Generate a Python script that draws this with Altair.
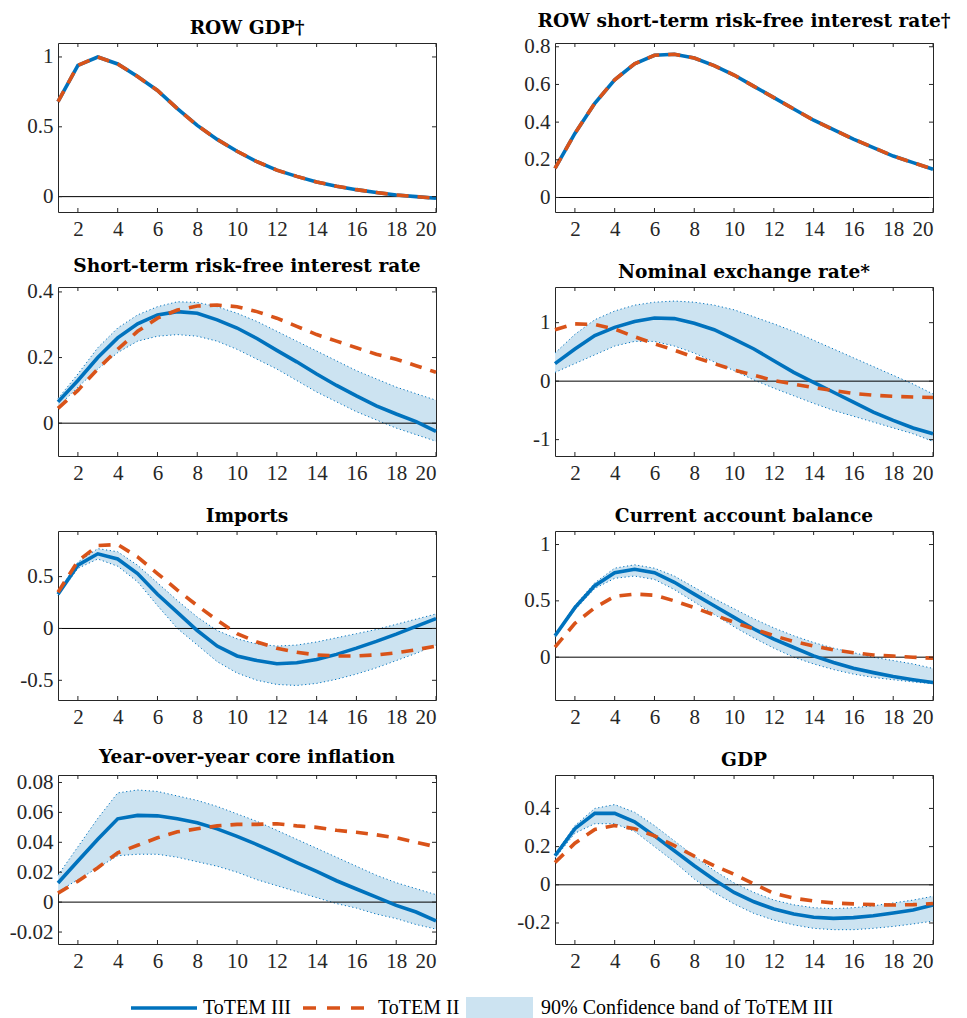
import altair as alt
import pandas as pd

# ---------------- data ----------------
horizon = list(range(1, 21))
x_ticks = [2, 4, 6, 8, 10, 12, 14, 16, 18, 20]

titles = [
    "ROW GDP\u2020",
    "ROW short-term risk-free interest rate\u2020",
    "Short-term risk-free interest rate",
    "Nominal exchange rate*",
    "Imports",
    "Current account balance",
    "Year-over-year core inflation",
    "GDP",
]

legend_labels = ["ToTEM III", "ToTEM II", "90% Confidence band of ToTEM III"]

# ROW GDP
row_gdp_t3 = [0.68, 0.94, 1.0, 0.95, 0.86, 0.76, 0.63, 0.51, 0.41, 0.325, 0.25, 0.19, 0.145, 0.105, 0.075, 0.05, 0.03, 0.012, 0.0, -0.012]
row_gdp_t2 = [0.68, 0.94, 1.0, 0.95, 0.86, 0.76, 0.63, 0.51, 0.41, 0.325, 0.25, 0.19, 0.145, 0.105, 0.075, 0.05, 0.03, 0.012, 0.0, -0.012]

# ROW short-term rate
row_rate_t3 = [0.155, 0.34, 0.50, 0.625, 0.71, 0.755, 0.76, 0.74, 0.70, 0.65, 0.59, 0.53, 0.47, 0.41, 0.36, 0.31, 0.265, 0.22, 0.185, 0.15]
row_rate_t2 = [0.155, 0.34, 0.50, 0.625, 0.71, 0.755, 0.76, 0.74, 0.70, 0.65, 0.59, 0.53, 0.47, 0.41, 0.36, 0.31, 0.265, 0.22, 0.185, 0.15]

# Short-term risk-free interest rate
rate_t3 = [0.065, 0.13, 0.2, 0.26, 0.303, 0.33, 0.34, 0.335, 0.315, 0.29, 0.258, 0.222, 0.187, 0.15, 0.115, 0.083, 0.053, 0.028, 0.005, -0.025]
rate_hi = [0.075, 0.15, 0.23, 0.29, 0.33, 0.355, 0.37, 0.368, 0.355, 0.335, 0.31, 0.28, 0.25, 0.22, 0.19, 0.16, 0.135, 0.11, 0.09, 0.07]
rate_lo = [0.05, 0.11, 0.165, 0.215, 0.25, 0.265, 0.27, 0.265, 0.25, 0.225, 0.195, 0.165, 0.13, 0.095, 0.065, 0.035, 0.01, -0.015, -0.035, -0.055]
rate_t2 = [0.045, 0.10, 0.165, 0.225, 0.28, 0.32, 0.345, 0.357, 0.36, 0.355, 0.34, 0.32, 0.295, 0.27, 0.25, 0.23, 0.21, 0.195, 0.175, 0.155]

# Nominal exchange rate
fx_t3 = [0.30, 0.55, 0.78, 0.92, 1.02, 1.08, 1.07, 0.99, 0.88, 0.72, 0.55, 0.35, 0.15, -0.02, -0.19, -0.36, -0.53, -0.67, -0.8, -0.9]
fx_hi = [0.48, 0.8, 1.05, 1.2, 1.3, 1.35, 1.37, 1.35, 1.3, 1.22, 1.1, 0.98, 0.85, 0.7, 0.55, 0.4, 0.25, 0.1, -0.05, -0.22]
fx_lo = [0.15, 0.3, 0.45, 0.6, 0.68, 0.68, 0.6, 0.48, 0.33, 0.18, 0.02, -0.12, -0.25, -0.38, -0.5, -0.6, -0.7, -0.8, -0.9, -1.03]
fx_t2 = [0.88, 0.98, 0.97, 0.89, 0.76, 0.64, 0.53, 0.41, 0.30, 0.19, 0.1, 0.01, -0.05, -0.11, -0.16, -0.21, -0.24, -0.26, -0.27, -0.28]

# Imports
imp_t3 = [0.33, 0.61, 0.72, 0.67, 0.53, 0.33, 0.155, -0.02, -0.17, -0.265, -0.31, -0.34, -0.33, -0.3, -0.25, -0.19, -0.125, -0.055, 0.02, 0.095]
imp_hi = [0.35, 0.64, 0.77, 0.74, 0.61, 0.44, 0.27, 0.11, -0.02, -0.1, -0.15, -0.17, -0.16, -0.13, -0.09, -0.05, -0.01, 0.04, 0.09, 0.14]
imp_lo = [0.32, 0.58, 0.67, 0.6, 0.45, 0.22, 0.0, -0.16, -0.32, -0.43, -0.5, -0.54, -0.55, -0.53, -0.49, -0.44, -0.38, -0.31, -0.24, -0.16]
imp_t2 = [0.35, 0.65, 0.8, 0.81, 0.69, 0.53, 0.37, 0.22, 0.08, -0.05, -0.13, -0.19, -0.23, -0.255, -0.265, -0.265, -0.255, -0.235, -0.205, -0.17]

# Current account balance
ca_t3 = [0.19, 0.44, 0.635, 0.75, 0.78, 0.75, 0.665, 0.56, 0.457, 0.353, 0.25, 0.16, 0.086, 0.012, -0.047, -0.098, -0.137, -0.172, -0.2, -0.225]
ca_hi = [0.2, 0.46, 0.66, 0.79, 0.82, 0.79, 0.72, 0.62, 0.52, 0.43, 0.34, 0.26, 0.19, 0.13, 0.08, 0.04, 0.0, -0.03, -0.06, -0.1]
ca_lo = [0.18, 0.42, 0.61, 0.7, 0.72, 0.69, 0.6, 0.49, 0.38, 0.27, 0.17, 0.08, 0.0, -0.06, -0.11, -0.15, -0.18, -0.2, -0.22, -0.235]
ca_t2 = [0.09, 0.3, 0.44, 0.54, 0.56, 0.55, 0.5, 0.44, 0.375, 0.31, 0.25, 0.19, 0.14, 0.1, 0.065, 0.04, 0.02, 0.01, 0.0, -0.01]

# Year-over-year core inflation
cpi_t3 = [0.0128, 0.0275, 0.042, 0.0557, 0.058, 0.0577, 0.0557, 0.053, 0.049, 0.044, 0.0385, 0.0326, 0.0264, 0.0205, 0.0143, 0.0088, 0.0033, -0.0022, -0.0066, -0.0126]
cpi_hi = [0.018, 0.037, 0.056, 0.073, 0.075, 0.074, 0.071, 0.068, 0.064, 0.059, 0.054, 0.048, 0.042, 0.036, 0.03, 0.024, 0.018, 0.013, 0.009, 0.005]
cpi_lo = [0.007, 0.015, 0.023, 0.031, 0.032, 0.032, 0.03, 0.027, 0.024, 0.02, 0.015, 0.011, 0.007, 0.003, -0.001, -0.004, -0.008, -0.011, -0.015, -0.018]
cpi_t2 = [0.006, 0.014, 0.023, 0.033, 0.038, 0.043, 0.047, 0.049, 0.051, 0.052, 0.052, 0.0524, 0.051, 0.05, 0.048, 0.0467, 0.045, 0.043, 0.04, 0.037]

# GDP
gdp_t3 = [0.152, 0.294, 0.374, 0.374, 0.33, 0.256, 0.178, 0.1, 0.026, -0.04, -0.089, -0.127, -0.153, -0.17, -0.176, -0.172, -0.162, -0.148, -0.132, -0.106]
gdp_hi = [0.16, 0.31, 0.4, 0.42, 0.38, 0.31, 0.23, 0.15, 0.075, 0.01, -0.04, -0.08, -0.105, -0.12, -0.125, -0.12, -0.11, -0.095, -0.08, -0.06]
gdp_lo = [0.14, 0.27, 0.32, 0.32, 0.28, 0.2, 0.12, 0.03, -0.04, -0.1, -0.15, -0.185, -0.21, -0.228, -0.235, -0.235, -0.228, -0.218, -0.205, -0.19]
gdp_t2 = [0.117, 0.218, 0.29, 0.31, 0.294, 0.256, 0.205, 0.15, 0.1, 0.055, 0.005, -0.045, -0.07, -0.085, -0.095, -0.1, -0.104, -0.106, -0.104, -0.098]

zero_line = [0]

# ---------------- styling ----------------
BLUE = "#0072BD"
ORANGE = "#D95319"
BAND = "#CCE3F1"
AXIS = "#262626"
W, H = 378, 169
TICK = 4
LABEL_FONT = "Liberation Serif"


def make_panel(title, t3, t2, ydom, yticks, lo=None, hi=None, legend=False):
    df = pd.DataFrame({"h": horizon, "t3": t3, "t2": t2})
    if lo is not None:
        df["lo"] = lo
        df["hi"] = hi
    xs = alt.Scale(domain=[1, 20], nice=False, zero=False)
    ys = alt.Scale(domain=ydom, nice=False, zero=False)
    xax = alt.Axis(values=x_ticks, title=None, labelExpr="'' + datum.value")
    yax = alt.Axis(values=yticks, title=None, labelExpr="'' + datum.value")

    def X(f):
        return alt.X(f, type="quantitative", scale=xs, axis=xax)

    def Y(f):
        return alt.Y(f, type="quantitative", scale=ys, axis=yax)

    base = alt.Chart(df)
    layers = []
    if lo is not None:
        layers.append(base.mark_area(color=BAND, opacity=1).encode(x=X("h"), y=Y("lo"), y2="hi"))
        for f in ["lo", "hi"]:
            layers.append(
                base.mark_line(color=BLUE, strokeWidth=1, strokeDash=[1.2, 2.6]).encode(x=X("h"), y=Y(f))
            )
    layers.append(
        alt.Chart(pd.DataFrame({"z": zero_line})).mark_rule(color="black", strokeWidth=1).encode(y=Y("z"))
    )
    layers.append(base.mark_line(color=BLUE, strokeWidth=3.6).encode(x=X("h"), y=Y("t3")))
    layers.append(
        base.mark_line(color=ORANGE, strokeWidth=3.6, strokeDash=[12, 9]).encode(x=X("h"), y=Y("t2"))
    )
    xt = alt.Chart(pd.DataFrame({"v": x_ticks}))
    layers.append(xt.mark_rule(color=AXIS, strokeWidth=1).encode(x=X("v"), y=alt.value(H), y2=alt.value(H - TICK)))
    layers.append(xt.mark_rule(color=AXIS, strokeWidth=1).encode(x=X("v"), y=alt.value(0), y2=alt.value(TICK)))
    yt = alt.Chart(pd.DataFrame({"v": yticks}))
    layers.append(yt.mark_rule(color=AXIS, strokeWidth=1).encode(y=Y("v"), x=alt.value(0), x2=alt.value(TICK)))
    layers.append(yt.mark_rule(color=AXIS, strokeWidth=1).encode(y=Y("v"), x=alt.value(W - TICK), x2=alt.value(W)))

    if legend:
        one = alt.Chart(pd.DataFrame({"label": [legend_labels[0]]}))
        two = alt.Chart(pd.DataFrame({"label": [legend_labels[1]]}))
        three = alt.Chart(pd.DataFrame({"label": [legend_labels[2]]}))
        ly = H + 64
        layers.append(one.mark_rule(color=BLUE, strokeWidth=3.6).encode(
            x=alt.value(73), x2=alt.value(139), y=alt.value(ly)))
        layers.append(one.mark_text(align="left", baseline="middle", font=LABEL_FONT, fontSize=20,
                                    color="#000000").encode(text="label:N", x=alt.value(145), y=alt.value(ly)))
        layers.append(two.mark_rule(color=ORANGE, strokeWidth=3.6, strokeDash=[13, 11]).encode(
            x=alt.value(245), x2=alt.value(307), y=alt.value(ly)))
        layers.append(two.mark_text(align="left", baseline="middle", font=LABEL_FONT, fontSize=20,
                                    color="#000000").encode(text="label:N", x=alt.value(320), y=alt.value(ly)))
        layers.append(three.mark_rect(color=BAND).encode(
            x=alt.value(408), x2=alt.value(475), y=alt.value(ly - 11), y2=alt.value(ly + 10)))
        layers.append(three.mark_text(align="left", baseline="middle", font=LABEL_FONT, fontSize=20,
                                      color="#000000").encode(text="label:N", x=alt.value(483), y=alt.value(ly)))

    return alt.layer(*layers).properties(width=W, height=H, title=alt.Title(title))


panels = [
    make_panel(titles[0], row_gdp_t3, row_gdp_t2, [-0.11, 1.1], [0, 0.5, 1]),
    make_panel(titles[1], row_rate_t3, row_rate_t2, [-0.077, 0.82], [0, 0.2, 0.4, 0.6, 0.8]),
    make_panel(titles[2], rate_t3, rate_t2, [-0.1, 0.415], [0, 0.2, 0.4], rate_lo, rate_hi),
    make_panel(titles[3], fx_t3, fx_t2, [-1.28, 1.61], [-1, 0, 1], fx_lo, fx_hi),
    make_panel(titles[4], imp_t3, imp_t2, [-0.69, 0.94], [-0.5, 0, 0.5], imp_lo, imp_hi),
    make_panel(titles[5], ca_t3, ca_t2, [-0.38, 1.12], [0, 0.5, 1], ca_lo, ca_hi),
    make_panel(titles[6], cpi_t3, cpi_t2, [-0.028, 0.085], [-0.02, 0, 0.02, 0.04, 0.06, 0.08], cpi_lo, cpi_hi,
               legend=True),
    make_panel(titles[7], gdp_t3, gdp_t2, [-0.31, 0.575], [-0.2, 0, 0.2, 0.4], gdp_lo, gdp_hi),
]

chart = alt.concat(
    *panels, columns=2, spacing={"row": 75, "column": 119}, bounds="flush"
).properties(
    padding={"left": 0, "top": 3, "right": 4, "bottom": 0}
).configure_view(
    stroke=AXIS, strokeWidth=1
).configure_axis(
    labelFont=LABEL_FONT, labelFontSize=21, labelColor=AXIS, domain=False, ticks=False, tickSize=0,
    grid=False, labelPadding=5
).configure_axisX(
    labelPadding=6, labelBaseline="top"
).configure_title(
    font="DejaVu Serif", fontSize=18.6, fontWeight="bold", color="#000000", anchor="middle",
    baseline="alphabetic", offset=5
)

chart.save("out.html", embed_options={"renderer": "svg", "actions": False})
